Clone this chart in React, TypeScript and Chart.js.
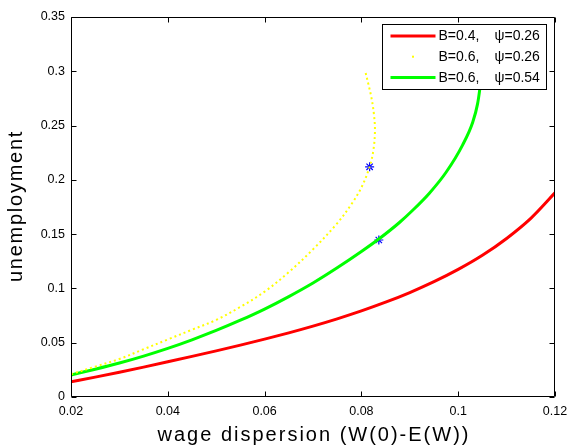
import { useEffect, useRef } from 'react';
import { Chart, registerables } from 'chart.js';

Chart.register(...registerables);

const FONT = '"Liberation Sans", Arial, Helvetica, sans-serif';

// ---- data ----
const redX = [0.02, 0.025, 0.03, 0.035, 0.04, 0.045, 0.05, 0.055, 0.06, 0.065, 0.07, 0.075, 0.08, 0.085, 0.09, 0.095, 0.1, 0.105, 0.11, 0.115, 0.12];
const redY = [0.014, 0.0183, 0.0228, 0.0275, 0.0324, 0.0374, 0.0425, 0.0478, 0.0533, 0.0591, 0.0653, 0.072, 0.0793, 0.0873, 0.0962, 0.1062, 0.1175, 0.1305, 0.146, 0.1645, 0.188];

const yellowX = [0.02, 0.025, 0.03, 0.035, 0.04, 0.045, 0.05, 0.055, 0.06, 0.065, 0.07, 0.075, 0.078, 0.08, 0.0817, 0.0825, 0.0828, 0.0826, 0.0821, 0.0814, 0.0808];
const yellowY = [0.021, 0.028, 0.035, 0.044, 0.053, 0.062, 0.071, 0.083, 0.097, 0.115, 0.136, 0.16, 0.178, 0.193, 0.212, 0.228, 0.245, 0.26, 0.275, 0.289, 0.3];

const greenX = [0.02, 0.025, 0.03, 0.035, 0.04, 0.045, 0.05, 0.055, 0.06, 0.065, 0.07, 0.075, 0.08, 0.0836, 0.0878, 0.0906, 0.094, 0.0975, 0.1009, 0.103, 0.104, 0.1045, 0.105, 0.1053];
const greenY = [0.0203, 0.0256, 0.0313, 0.0377, 0.0448, 0.0527, 0.0613, 0.0707, 0.081, 0.0925, 0.105, 0.119, 0.134, 0.1455, 0.1605, 0.172, 0.1875, 0.207, 0.232, 0.253, 0.27, 0.285, 0.305, 0.33];

const markerX = [0.0817, 0.0836];
const markerY = [0.212, 0.1446];

const seriesNames = ['B=0.4,   ψ=0.26', 'B=0.6,   ψ=0.26', 'B=0.6,   ψ=0.54'];

const xTicks = [0.02, 0.04, 0.06, 0.08, 0.1, 0.12];
const xTickLabels = ['0.02', '0.04', '0.06', '0.08', '0.1', '0.12'];
const yTicks = [0, 0.05, 0.1, 0.15, 0.2, 0.25, 0.3, 0.35];
const yTickLabels = ['0', '0.05', '0.1', '0.15', '0.2', '0.25', '0.3', '0.35'];

const xTitle = 'wage dispersion (W(0)-E(W))';
const yTitle = 'unemployment';

const pts = (xs: number[], ys: number[]) => xs.map((x, i) => ({ x, y: ys[i] }));

const framePlugin = {
  id: 'matlabFrame',
  afterDatasetsDraw(chart: any) {
    const ctx = chart.ctx as CanvasRenderingContext2D;
    const a = chart.chartArea;
    const xs = chart.scales.x;
    const ys = chart.scales.y;
    ctx.save();
    ctx.strokeStyle = '#000';
    ctx.lineWidth = 1;
    const L = Math.round(a.left) + 0.5;
    const R = Math.round(a.right) - 0.5;
    const T = Math.round(a.top) + 0.5;
    const B = Math.round(a.bottom) - 0.5;
    ctx.beginPath();
    ctx.rect(L, T, R - L, B - T);
    ctx.stroke();
    const tl = 5;
    ctx.beginPath();
    xTicks.forEach((v) => {
      const px = Math.round(xs.getPixelForValue(v)) + 0.5;
      ctx.moveTo(px, B);
      ctx.lineTo(px, B - tl);
      ctx.moveTo(px, T);
      ctx.lineTo(px, T + tl);
    });
    yTicks.forEach((v) => {
      const py = Math.round(ys.getPixelForValue(v)) + 0.5;
      ctx.moveTo(L, py);
      ctx.lineTo(L + tl, py);
      ctx.moveTo(R, py);
      ctx.lineTo(R - tl, py);
    });
    ctx.stroke();

    // legend
    const lx = Math.round(a.right) - 172.5;
    const ly = Math.round(a.top) + 7.5;
    const lw = 164;
    const lh = 65;
    ctx.fillStyle = '#fff';
    ctx.fillRect(lx, ly, lw, lh);
    ctx.strokeStyle = '#000';
    ctx.lineWidth = 1;
    ctx.strokeRect(lx, ly, lw, lh);
    const ds = chart.data.datasets.slice(0, 3);
    ds.forEach((d: any, i: number) => {
      const cy = ly + 11.5 + i * 20.7;
      if (d.borderDash && d.borderDash.length) {
        ctx.fillStyle = d.borderColor;
        ctx.fillRect(lx + 29.5, cy - 1, 2, 2);
      } else {
        ctx.strokeStyle = d.borderColor;
        ctx.lineWidth = 3;
        ctx.beginPath();
        ctx.moveTo(lx + 8, cy);
        ctx.lineTo(lx + 53, cy);
        ctx.stroke();
      }
      const parts = String(d.label).split(/\s{2,}/);
      ctx.fillStyle = '#000';
      ctx.font = `14px ${FONT}`;
      ctx.textBaseline = 'middle';
      ctx.textAlign = 'left';
      ctx.fillText(parts[0], lx + 56, cy + 0.5);
      if (parts[1]) ctx.fillText(parts[1], lx + 112, cy + 0.5);
    });

    // axis titles
    ctx.fillStyle = '#000';
    ctx.font = `20px ${FONT}`;
    ctx.textAlign = 'center';
    ctx.textBaseline = 'alphabetic';
    (ctx as any).letterSpacing = '2px';
    ctx.fillText(xTitle, (a.left + a.right) / 2 + 1, 441);
    (ctx as any).letterSpacing = '1.75px';
    ctx.save();
    ctx.translate(22, (a.top + a.bottom) / 2);
    ctx.rotate(-Math.PI / 2);
    ctx.fillText(yTitle, 1, 0);
    ctx.restore();
    (ctx as any).letterSpacing = '0px';
    ctx.restore();
  },
};

export default function App() {
  const ref = useRef<HTMLCanvasElement>(null);
  useEffect(() => {
    const chart = new Chart(ref.current as HTMLCanvasElement, {
      type: 'scatter',
      data: {
        datasets: [
          {
            label: seriesNames[0],
            data: pts(redX, redY),
            showLine: true,
            borderColor: '#ff0000',
            backgroundColor: '#ff0000',
            borderWidth: 3,
            pointRadius: 0,
            cubicInterpolationMode: 'monotone',
          },
          {
            label: seriesNames[1],
            data: pts(yellowX, yellowY),
            showLine: true,
            borderColor: '#ffff00',
            backgroundColor: '#ffff00',
            borderWidth: 2,
            borderDash: [2, 3],
            borderCapStyle: 'butt',
            pointRadius: 0,
            tension: 0.35,
          },
          {
            label: seriesNames[2],
            data: pts(greenX, greenY),
            showLine: true,
            borderColor: '#00ff00',
            backgroundColor: '#00ff00',
            borderWidth: 3,
            pointRadius: 0,
            cubicInterpolationMode: 'monotone',
          },
          {
            label: 'markers',
            data: pts(markerX, markerY),
            showLine: false,
            pointStyle: 'star',
            pointRadius: 4.5,
            borderColor: '#0000ff',
            backgroundColor: '#0000ff',
            pointBorderWidth: 1.2,
          } as any,
        ],
      },
      options: {
        responsive: false,
        animation: false,
        devicePixelRatio: 1,
        layout: { autoPadding: false, padding: { top: 17, right: 12, left: 0, bottom: 0 } } as any,
        plugins: {
          legend: { display: false },
          tooltip: { enabled: false },
        },
        events: [],
        scales: {
          x: {
            type: 'linear',
            min: 0.02,
            max: 0.12,
            grid: { display: false, drawTicks: false },
            border: { display: false },
            afterBuildTicks: (s: any) => {
              s.ticks = xTicks.map((v) => ({ value: v }));
            },
            afterFit: (s: any) => {
              s.height = 48;
              s.paddingLeft = 0;
              s.paddingRight = 0;
            },
            ticks: {
              padding: 7,
              maxRotation: 0,
              autoSkip: false,
              color: '#000',
              font: { family: FONT, size: 12.5 },
              callback: (_v: any, i: number) => xTickLabels[i],
            },
          },
          y: {
            type: 'linear',
            min: 0,
            max: 0.35,
            grid: { display: false, drawTicks: false },
            border: { display: false },
            afterBuildTicks: (s: any) => {
              s.ticks = yTicks.map((v) => ({ value: v }));
            },
            afterFit: (s: any) => {
              s.width = 71;
              s.paddingTop = 0;
              s.paddingBottom = 0;
            },
            ticks: {
              padding: 6,
              autoSkip: false,
              color: '#000',
              font: { family: FONT, size: 12.5 },
              callback: (_v: any, i: number) => yTickLabels[i],
            },
          },
        },
      },
      plugins: [framePlugin],
    });
    return () => chart.destroy();
  }, []);
  return (
    <div style={{ position: 'fixed', left: 0, top: 0, width: 567, height: 445, background: '#fff' }}>
      <canvas ref={ref} width={567} height={445} style={{ display: 'block', width: 567, height: 445 }} />
    </div>
  );
}
